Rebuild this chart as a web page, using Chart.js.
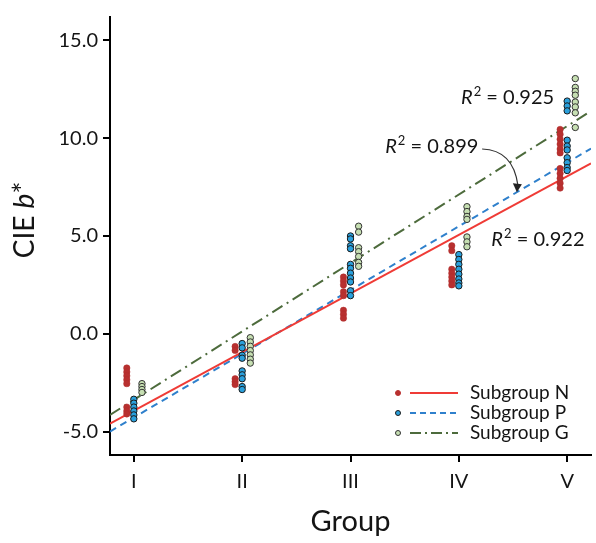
<!DOCTYPE html>
<html>
<head>
<meta charset="utf-8">
<script src="https://cdn.jsdelivr.net/npm/chart.js@4.4.1/dist/chart.umd.min.js"></script>
<style>
    html, body { margin: 0; padding: 0; background: #fff; }
    #caixa { width: 596px; height: 543px; }
</style>
</head>
<body>
<div id="caixa"><canvas id="grafico"></canvas></div>
<script>
const grupos = ['I', 'II', 'III', 'IV', 'V'];
const subgrupos = ['Subgroup N', 'Subgroup P', 'Subgroup G'];
const ticksY = [-5, 0, 5, 10, 15];

// Valores de b* de cada amostra, um array por grupo (I a V)
const valoresN = [
    [-1.75, -1.95, -2.15, -2.35, -2.55, -3.75, -3.95, -4.1],
    [-0.65, -0.85, -2.3, -2.45, -2.6],
    [2.9, 2.7, 2.5, 2.15, 1.95, 1.2, 1.0, 0.8],
    [4.5, 4.25, 3.3, 3.1, 2.9, 2.7, 2.5],
    [10.45, 10.2, 9.95, 9.7, 9.45, 9.25, 8.45, 8.2, 7.95, 7.7, 7.45]
];
const valoresP = [
    [-3.35, -3.55, -3.75, -3.95, -4.15, -4.35],
    [-0.5, -0.72, -1.1, -1.25, -1.9, -2.1, -2.3, -2.7, -2.85],
    [5.0, 4.85, 4.5, 4.35, 3.55, 3.35, 3.1, 2.85, 2.65, 2.2, 1.95],
    [4.05, 3.8, 3.55, 3.3, 3.05, 2.8, 2.6, 2.45],
    [11.9, 11.65, 11.4, 9.9, 9.6, 9.4, 9.0, 8.75, 8.5, 8.35]
];
const valoresG = [
    [-2.55, -2.7, -2.85, -3.0],
    [-0.2, -0.42, -0.64, -0.86, -1.08, -1.3, -1.5],
    [5.5, 5.2, 4.4, 4.2, 3.95, 3.65, 3.45],
    [6.5, 6.25, 6.0, 5.85, 4.95, 4.7, 4.45],
    [13.05, 12.6, 12.4, 12.2, 11.85, 11.6, 11.3, 10.55]
];

// Retas de ajuste: valor de b* nas duas extremidades do eixo x
const extremosX = [0.78, 5.22];
const ajusteN = [-4.6, 8.72];
const ajusteP = [-5.0, 9.47];
const ajusteG = [-4.15, 11.39];

const r2 = ['0.922', '0.899', '0.925'];

const fonte = 'Lato, "Open Sans", sans-serif';
const corTexto = '#141414';

window.onload = () => {
    apresentarGrafico();
}

// Cada subgrupo fica um pouco deslocado dentro do grupo
function pontos(valores, desloc) {
    return valores.flatMap((lista, i) => lista.map(v => ({ x: i + 1 + desloc, y: v })));
}

function reta(valores) {
    return extremosX.map((x, i) => ({ x: x, y: valores[i] }));
}

// Desenha "R² = valor" com R em itálico e o 2 sobrescrito
function textoR2(ctx, x, y, valor) {
    ctx.textBaseline = 'alphabetic';
    ctx.textAlign = 'left';
    ctx.fillStyle = corTexto;
    ctx.font = 'italic 20px ' + fonte;
    ctx.fillText('R', x, y);
    x += ctx.measureText('R').width + 1;
    ctx.font = '13px ' + fonte;
    ctx.fillText('2', x, y - 8);
    x += ctx.measureText('2').width;
    ctx.font = '20px ' + fonte;
    ctx.fillText(' = ' + valor, x, y);
}

const anotacoes = {
    id: 'anotacoes',
    afterDraw(chart) {
        const { ctx, chartArea } = chart;
        const sx = chart.scales.x, sy = chart.scales.y;
        ctx.save();

        // Título do eixo y com o b em itálico
        ctx.translate(25, 220);
        ctx.rotate(-Math.PI / 2);
        ctx.textBaseline = 'middle';
        ctx.textAlign = 'left';
        ctx.fillStyle = corTexto;
        const partes = [['CIE ', ''], ['b', 'italic '], ['*', '']];
        let largura = 0;
        partes.forEach(p => { ctx.font = p[1] + '28px ' + fonte; largura += ctx.measureText(p[0]).width; });
        let px = -largura / 2;
        partes.forEach(p => {
            ctx.font = p[1] + '28px ' + fonte;
            ctx.fillText(p[0], px, 0);
            px += ctx.measureText(p[0]).width;
        });
        ctx.setTransform(1, 0, 0, 1, 0, 0);

        // Rótulos de R²
        textoR2(ctx, sx.getPixelForValue(4.30), sy.getPixelForValue(4.5), r2[0]);
        textoR2(ctx, sx.getPixelForValue(3.32), sy.getPixelForValue(9.25), r2[1]);
        textoR2(ctx, sx.getPixelForValue(4.02), sy.getPixelForValue(11.75), r2[2]);

        // Seta curva do rótulo 0.899 até a reta P
        const x0 = sx.getPixelForValue(4.215), y0 = sy.getPixelForValue(9.45);
        const xc = sx.getPixelForValue(4.50), yc = sy.getPixelForValue(9.4);
        const x1 = sx.getPixelForValue(4.545), y1 = sy.getPixelForValue(7.6);
        ctx.strokeStyle = '#333';
        ctx.lineWidth = 1.2;
        ctx.beginPath();
        ctx.moveTo(x0, y0);
        ctx.quadraticCurveTo(xc, yc, x1, y1);
        ctx.stroke();
        ctx.fillStyle = '#222';
        ctx.beginPath();
        ctx.moveTo(x1 - 1, y1 + 7);
        ctx.lineTo(x1 - 5, y1 - 2);
        ctx.lineTo(x1 + 4, y1 - 1);
        ctx.closePath();
        ctx.fill();

        // Legenda: ponto, linha e nome de cada subgrupo
        const estilos = [
            { ponto: '#b8302f', borda: '#b8302f', linha: '#ef3b36', traco: [] },
            { ponto: '#2aa0dc', borda: '#1a1a1a', linha: '#2f80cc', traco: [6, 4] },
            { ponto: '#c6dfb2', borda: '#333', linha: '#4d6b3c', traco: [11, 4, 2, 4] }
        ];
        subgrupos.forEach((nome, i) => {
            const yy = chartArea.bottom - 62 + i * 20;
            const e = estilos[i];
            ctx.setLineDash([]);
            ctx.fillStyle = e.ponto;
            ctx.strokeStyle = e.borda;
            ctx.lineWidth = 1;
            ctx.beginPath();
            ctx.arc(398, yy, 2.5, 0, Math.PI * 2);
            ctx.fill();
            ctx.stroke();
            ctx.strokeStyle = e.linha;
            ctx.lineWidth = 2;
            ctx.setLineDash(e.traco);
            ctx.beginPath();
            ctx.moveTo(410, yy);
            ctx.lineTo(458, yy);
            ctx.stroke();
            ctx.setLineDash([]);
            ctx.fillStyle = corTexto;
            ctx.font = '19px ' + fonte;
            ctx.textBaseline = 'middle';
            ctx.textAlign = 'left';
            ctx.fillText(nome, 470, yy);
        });
        ctx.restore();
    }
};

function apresentarGrafico() {
    const contexto = document.getElementById('grafico');

    new Chart(contexto, {
        type: 'scatter',
        data: {
            datasets: [
                {
                    label: subgrupos[0], data: pontos(valoresN, -0.065),
                    pointRadius: 3.2, backgroundColor: '#b8302f', borderColor: '#b02c2c',
                    borderWidth: 0.5, order: 1
                },
                {
                    label: subgrupos[1], data: pontos(valoresP, 0),
                    pointRadius: 3.2, backgroundColor: '#2aa0dc', borderColor: '#1a1a1a',
                    borderWidth: 1, order: 1
                },
                {
                    label: subgrupos[2], data: pontos(valoresG, 0.075),
                    pointRadius: 3.2, backgroundColor: '#c6dfb2', borderColor: '#333',
                    borderWidth: 1, order: 1
                },
                {
                    label: 'N ajuste', data: reta(ajusteN), showLine: true,
                    borderColor: '#ef3b36', borderWidth: 2, pointRadius: 0, order: 2
                },
                {
                    label: 'P ajuste', data: reta(ajusteP), showLine: true,
                    borderColor: '#2f80cc', borderWidth: 2, borderDash: [7, 5], pointRadius: 0, order: 2
                },
                {
                    label: 'G ajuste', data: reta(ajusteG), showLine: true,
                    borderColor: '#4d6b3c', borderWidth: 2, borderDash: [12, 5, 2, 5], pointRadius: 0, order: 2
                }
            ]
        },
        options: {
            responsive: true,
            maintainAspectRatio: false,
            animation: false,
            layout: { padding: { top: 7, right: 0, left: 0, bottom: 0 } },
            plugins: {
                legend: { display: false },
                tooltip: { enabled: false }
            },
            scales: {
                x: {
                    type: 'linear',
                    min: extremosX[0],
                    max: extremosX[1],
                    afterBuildTicks: escala => {
                        escala.ticks = grupos.map((g, i) => ({ value: i + 1 }));
                    },
                    afterFit: escala => { escala.height = 88; },
                    ticks: {
                        callback: valor => grupos[valor - 1],
                        font: { family: fonte, size: 20 },
                        color: corTexto,
                        padding: 8,
                        maxRotation: 0
                    },
                    grid: {
                        drawOnChartArea: false,
                        drawTicks: true,
                        tickLength: 7,
                        color: '#000',
                        lineWidth: 2
                    },
                    border: { color: '#000', width: 2 },
                    title: {
                        display: true,
                        text: 'Group',
                        font: { family: fonte, size: 29 },
                        color: corTexto,
                        padding: { top: 0, bottom: 4 }
                    }
                },
                y: {
                    min: -6.2,
                    max: 16.2,
                    afterBuildTicks: escala => {
                        escala.ticks = ticksY.map(v => ({ value: v }));
                    },
                    afterFit: escala => { escala.width = 110; },
                    ticks: {
                        callback: valor => valor.toFixed(1),
                        font: { family: fonte, size: 20 },
                        color: corTexto,
                        padding: 5
                    },
                    grid: {
                        drawOnChartArea: false,
                        drawTicks: true,
                        tickLength: 7,
                        color: '#000',
                        lineWidth: 2
                    },
                    border: { color: '#000', width: 2 }
                }
            }
        },
        plugins: [anotacoes]
    });
}
</script>
</body>
</html>
